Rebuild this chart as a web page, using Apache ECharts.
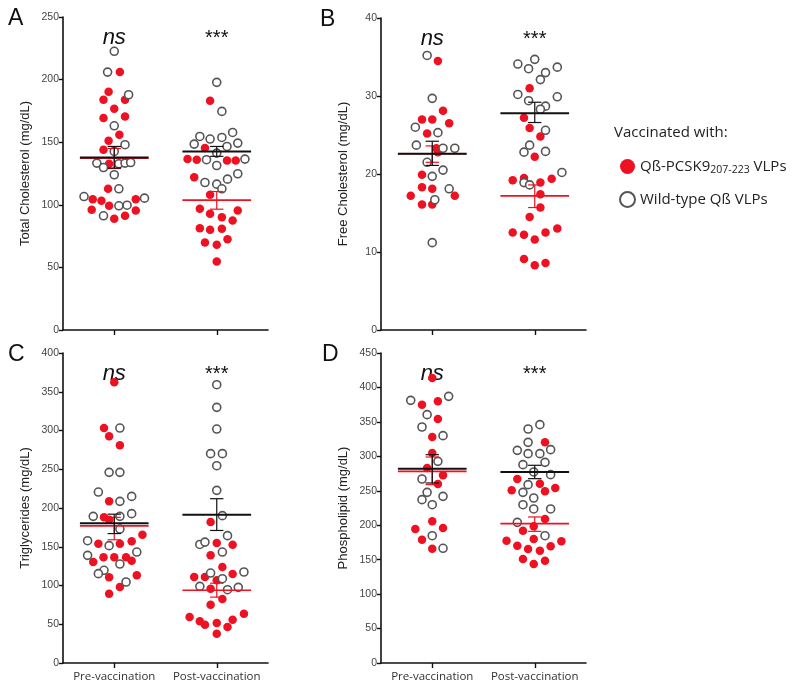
<!DOCTYPE html>
<html>
<head>
<meta charset="utf-8">
<script src="https://cdn.jsdelivr.net/npm/echarts@6/dist/echarts.min.js"></script>
<style>
  html, body { margin: 0; padding: 0; background: #fff; }
  #chart { width: 800px; height: 689px; }
</style>
</head>
<body>
<div id="chart"></div>
<script>
// groups on the x axis: Pre = 1, Post = 3; points are [jitter, value]
var groups = ['Pre-vaccination', 'Post-vaccination'];
var groupX = [1, 3];

// A - total cholesterol
var tcPreWt = [[0,222.6],[-0.13,206],[0.28,187.9],[0,163.1],[0.21,148],[0,142.6],[-0.34,133.3],[-0.21,129.8],[0.09,132.8],[0.21,133.3],[0.32,133.8],[0,124],[0.09,112.8],[-0.59,106.6],[0.59,105.3],[0.09,99.2],[0.25,99.7],[-0.21,91.2]];
var tcPrePc = [[0.11,206],[-0.11,190.3],[-0.21,183.9],[0.21,183.9],[0,176.7],[-0.21,169.3],[0.21,170.6],[0.1,156],[-0.11,151.1],[-0.21,144],[-0.1,132.8],[-0.12,112.8],[-0.42,104.5],[-0.25,103.2],[0.42,104.5],[-0.1,99.2],[-0.44,96],[0.42,95.5],[0,88.8],[0.21,91.2]];
var tcPostWt = [[0,197.8],[0.1,174.6],[-0.33,154.6],[-0.13,152.5],[0.1,153.8],[0.31,157.8],[-0.44,148.5],[0.41,149.3],[0.2,146.6],[0,141.3],[-0.2,136],[0,131.4],[0.55,136.5],[0.41,124.8],[-0.23,117.8],[0,116.5],[0.21,120.5],[0.1,112.8]];
var tcPostPc = [[-0.13,183.1],[-0.23,145.3],[-0.57,136.5],[-0.39,136],[0.2,135.4],[0.37,135.4],[-0.44,122.1],[-0.13,108],[-0.33,96.8],[-0.13,92.8],[0.1,90.1],[0.31,87.5],[0.41,95.5],[-0.33,81.3],[-0.13,80],[0.1,80.8],[-0.23,69.9],[0,68],[0.21,72.5],[0,54.7]];
// [mean, low, high] for pre, post
var tcMeanWt = [[137.8,129.3,146.6],[142.6,138.7,146.6]];
var tcMeanPc = [[137.2,129,145],[103.7,96.5,110.6]];

// B - free cholesterol
var fcPreWt = [[-0.1,35.2],[0,29.7],[-0.33,26],[0.11,25.3],[-0.31,23.7],[0.21,23.3],[0.44,23.3],[-0.1,21.5],[0,19.7],[0.21,20.5],[0.33,18.1],[0.05,16.7],[0,11.2]];
var fcPrePc = [[0.11,34.5],[0.21,28.1],[-0.2,27],[0,27],[0.33,26.5],[-0.1,25.2],[0.08,23.3],[0.11,22.8],[-0.2,19.9],[-0.2,18.3],[0,18.1],[-0.42,17.2],[0.44,17.2],[-0.2,16.1],[0,16.1]];
var fcPostWt = [[-0.33,34.1],[0,34.7],[-0.12,33.5],[0.21,33],[0.44,33.7],[0.11,32.1],[-0.33,30.2],[-0.12,29.4],[0.44,29.9],[0.21,28.7],[0.11,28.3],[0.21,25.6],[-0.1,23.7],[-0.21,22.8],[0.21,22.9],[0.53,20.2],[-0.21,18.9],[-0.1,18.6]];
var fcPostPc = [[-0.1,31],[-0.21,27.2],[-0.1,25.9],[0.11,24.8],[0,22.2],[-0.43,19.2],[-0.21,19.5],[0.11,18.9],[0.33,19.4],[0.11,17.4],[0.11,15.7],[-0.1,14.5],[-0.43,12.5],[-0.21,12.2],[0,11.6],[0.21,12.5],[0.44,13],[-0.21,9.1],[0,8.3],[0.21,8.6]];
var fcMeanWt = [[22.6,21.1,24.2],[27.8,26.6,29.2]];
var fcMeanPc = [[22.6,21.5,23.6],[17.2,15.7,18.6]];

// C - triglycerides
var tgPreWt = [[0.11,303.2],[-0.1,246],[0.11,246],[-0.31,220.6],[0.11,208.6],[0.34,215],[-0.41,189.2],[0.11,189.2],[0.34,192.7],[0.11,172.9],[-0.1,151.4],[-0.52,157.8],[-0.52,138.9],[0.44,143.2],[-0.2,119.6],[-0.31,115.3],[0.11,127.7],[0.23,104.5]];
var tgPrePc = [[0,362.2],[-0.2,303.2],[-0.1,292.5],[0.11,280.9],[-0.1,208.6],[-0.2,188],[-0.1,185],[-0.31,154],[0.11,154],[0.34,157],[0.55,165.6],[-0.21,136.3],[0,136.3],[0.23,136.3],[0.34,132],[-0.41,130.3],[-0.1,110.5],[0.44,113.1],[0.11,98.1],[-0.1,89.5]];
var tgPostWt = [[0,359.1],[0,329.9],[0,301.9],[-0.12,270.1],[0.11,270.1],[0,254.6],[0,222.8],[0.11,190.1],[-0.33,153],[-0.23,156],[0.21,164.3],[0.11,143.2],[-0.12,116.1],[0.11,108.8],[0.53,117.4],[-0.33,98.9],[0.21,94.6],[0.42,97.6]];
var tgPostPc = [[-0.12,182],[0,154.8],[0.31,152.7],[-0.12,138.9],[0.11,123.9],[0.31,114.8],[-0.44,111],[-0.23,111],[0,106.7],[-0.12,95.9],[0.11,82.6],[-0.12,75.3],[-0.53,59.4],[-0.33,53.8],[-0.23,49.5],[0,51.6],[0.21,46.5],[0.31,55.9],[0.53,63.7],[0,37.8]];
var tgMeanWt = [[180.4,167,192],[191.4,171,212]];
var tgMeanPc = [[177,159,188],[93.8,85,103]];

// D - phospholipid
var plPreWt = [[-0.42,381.3],[0.32,387.1],[-0.1,360.5],[-0.2,342.6],[0.21,330],[0.11,292.7],[-0.2,267.1],[-0.1,247.7],[-0.2,237.1],[0.21,241.9],[0,229.8],[0,184.8],[0.21,166.5]];
var plPrePc = [[0,413.7],[-0.2,375],[0.11,379.8],[0.11,354.2],[0,328.1],[0,304.8],[-0.1,283.1],[0.21,272.4],[0.11,259.8],[0,205.6],[-0.33,194.5],[0.21,196],[-0.2,179],[0,166]];
var plPostWt = [[-0.13,339.7],[0.1,346],[-0.13,320.3],[-0.34,308.7],[-0.13,303.9],[0.1,303.9],[0.31,309.7],[-0.23,287.9],[0.2,291.3],[-0.02,277.3],[0.31,273.4],[-0.13,258.9],[-0.23,247.7],[-0.02,239.5],[-0.23,229.8],[-0.02,223.6],[0.31,223.6],[-0.34,204.2],[0.2,184.8]];
var plPostPc = [[0.2,320.3],[-0.34,267.1],[-0.45,250.6],[0.1,260.3],[0.2,249.2],[0.4,254],[0.2,209],[-0.02,198.4],[-0.23,192.1],[-0.02,180],[-0.55,177.6],[-0.34,170.3],[-0.13,165.5],[0.1,163.1],[0.31,169.4],[0.52,176.6],[-0.23,151],[-0.02,143.7],[0.2,148.5]];
var plMeanWt = [[282.1,261.3,302.4],[277.3,267.6,287]];
var plMeanPc = [[278.2,258.9,299],[202.3,191.1,212]];

var yNames = ['Total Cholesterol (mg/dL)', 'Free Cholesterol (mg/dL)', 'Triglycerides (mg/dL)', 'Phospholipid (mg/dL)'];
var yMax = [250, 40, 400, 450];
var yStep = [50, 10, 50, 50];
var letters = ['A', 'B', 'C', 'D'];
var sigLabels = ['ns', '***'];

var panels = [
  { wt: [tcPreWt, tcPostWt], pc: [tcPrePc, tcPostPc], mWt: tcMeanWt, mPc: tcMeanPc },
  { wt: [fcPreWt, fcPostWt], pc: [fcPrePc, fcPostPc], mWt: fcMeanWt, mPc: fcMeanPc },
  { wt: [tgPreWt, tgPostWt], pc: [tgPrePc, tgPostPc], mWt: tgMeanWt, mPc: tgMeanPc },
  { wt: [plPreWt, plPostWt], pc: [plPrePc, plPostPc], mWt: plMeanWt, mPc: plMeanPc }
];

var RED = '#ee1122';
var grids = [
  { left: 63, top: 17, width: 205, height: 313 },
  { left: 381, top: 18, width: 205, height: 312 },
  { left: 63, top: 353, width: 205, height: 310 },
  { left: 381, top: 353, width: 205, height: 310 }
];
var letterX = [8, 320, 8, 322];

function place(list) {
  var out = [];
  for (var g = 0; g < list.length; g++) {
    for (var i = 0; i < list[g].length; i++) {
      out.push([groupX[g] + list[g][i][0], list[g][i][1]]);
    }
  }
  return out;
}

function meanData(m) {
  var out = [];
  for (var g = 0; g < m.length; g++) out.push([groupX[g], m[g][0], m[g][1], m[g][2]]);
  return out;
}

function meanRenderer(color, lw) {
  return function (params, api) {
    var x = api.value(0), m = api.value(1), lo = api.value(2), hi = api.value(3);
    var a = api.coord([x - 0.67, m]), b = api.coord([x + 0.67, m]);
    var t = api.coord([x, hi]), d = api.coord([x, lo]);
    var cw = api.size([0.13, 0])[0];
    var thin = { stroke: color, lineWidth: 1.2 };
    return {
      type: 'group',
      children: [
        { type: 'line', shape: { x1: a[0], y1: a[1], x2: b[0], y2: b[1] }, style: { stroke: color, lineWidth: lw } },
        { type: 'line', shape: { x1: t[0], y1: t[1], x2: d[0], y2: d[1] }, style: thin },
        { type: 'line', shape: { x1: t[0] - cw, y1: t[1], x2: t[0] + cw, y2: t[1] }, style: thin },
        { type: 'line', shape: { x1: d[0] - cw, y1: d[1], x2: d[0] + cw, y2: d[1] }, style: thin }
      ]
    };
  };
}

var xAxes = [], yAxes = [], series = [], graphics = [];
for (var p = 0; p < 4; p++) {
  var bottom = p >= 2;
  xAxes.push({
    gridIndex: p, type: 'value', min: 0, max: 4,
    splitLine: { show: false },
    axisLine: { lineStyle: { color: '#111', width: 1.6 } },
    axisTick: { customValues: groupX, length: 5, lineStyle: { color: '#111', width: 1.4 } },
    axisLabel: {
      show: bottom, customValues: groupX, margin: 8,
      fontFamily: 'Open Sans', fontSize: 11.5, color: '#333',
      formatter: function (v) { return v === 1 ? groups[0] : groups[1]; }
    }
  });
  yAxes.push({
    gridIndex: p, type: 'value', min: 0, max: yMax[p], interval: yStep[p],
    name: yNames[p], nameLocation: 'middle', nameGap: 31,
    nameTextStyle: { fontFamily: 'Liberation Sans', fontSize: 13, color: '#222' },
    splitLine: { show: false },
    axisLine: { show: true, lineStyle: { color: '#111', width: 1.6 } },
    axisTick: { show: true, length: 4, lineStyle: { color: '#111', width: 1.4 } },
    axisLabel: { fontFamily: 'Liberation Sans', fontSize: 10.5, color: '#444', margin: 4 }
  });
  series.push({
    name: 'pc', type: 'scatter', xAxisIndex: p, yAxisIndex: p,
    symbol: 'circle', symbolSize: 8.5, data: place(panels[p].pc),
    itemStyle: { color: RED, opacity: 1 }, z: 2
  });
  series.push({
    name: 'wt', type: 'scatter', xAxisIndex: p, yAxisIndex: p,
    symbol: 'circle', symbolSize: 8, data: place(panels[p].wt),
    itemStyle: { color: '#fff', borderColor: '#555', borderWidth: 1.6, opacity: 1 }, z: 2
  });
  series.push({
    type: 'custom', xAxisIndex: p, yAxisIndex: p, z: 3,
    data: meanData(panels[p].mPc), renderItem: meanRenderer(RED, 1.6)
  });
  series.push({
    type: 'custom', xAxisIndex: p, yAxisIndex: p, z: 4,
    data: meanData(panels[p].mWt), renderItem: meanRenderer('#111', 2)
  });

  var gr = grids[p];
  graphics.push({
    type: 'text', left: letterX[p], top: gr.top - 10,
    style: { text: letters[p], font: '23px "Liberation Sans"', fill: '#111' }
  });
  for (var s = 0; s < 2; s++) {
    var cx = gr.left + gr.width * groupX[s] / 4;
    graphics.push({
      type: 'text', x: cx, y: gr.top + 21,
      style: {
        text: sigLabels[s], fill: '#111', align: 'center', verticalAlign: 'middle',
        font: s === 0 ? 'italic 22px "Liberation Sans"' : '20px "Liberation Sans"'
      }
    });
  }
}

graphics.push({
  type: 'text', left: 614, top: 125,
  style: { text: 'Vaccinated with:', font: '15px "Open Sans"', fill: '#222' }
});

var chart = echarts.init(document.getElementById('chart'));
chart.setOption({
  animation: false,
  grid: grids,
  xAxis: xAxes,
  yAxis: yAxes,
  graphic: graphics,
  legend: {
    data: ['pc', 'wt'], orient: 'vertical', left: 614, top: 154,
    icon: 'circle', itemWidth: 15, itemHeight: 15, itemGap: 15,
    textStyle: {
      fontFamily: 'Open Sans', fontSize: 15, color: '#222',
      rich: { sub: { fontFamily: 'Open Sans', fontSize: 10.5, color: '#222', padding: [8, 0, 0, 0] } }
    },
    formatter: function (n) {
      return n === 'pc' ? 'Qß-PCSK9{sub|207-223} VLPs' : 'Wild-type Qß VLPs';
    }
  },
  series: series
});
</script>
</body>
</html>
